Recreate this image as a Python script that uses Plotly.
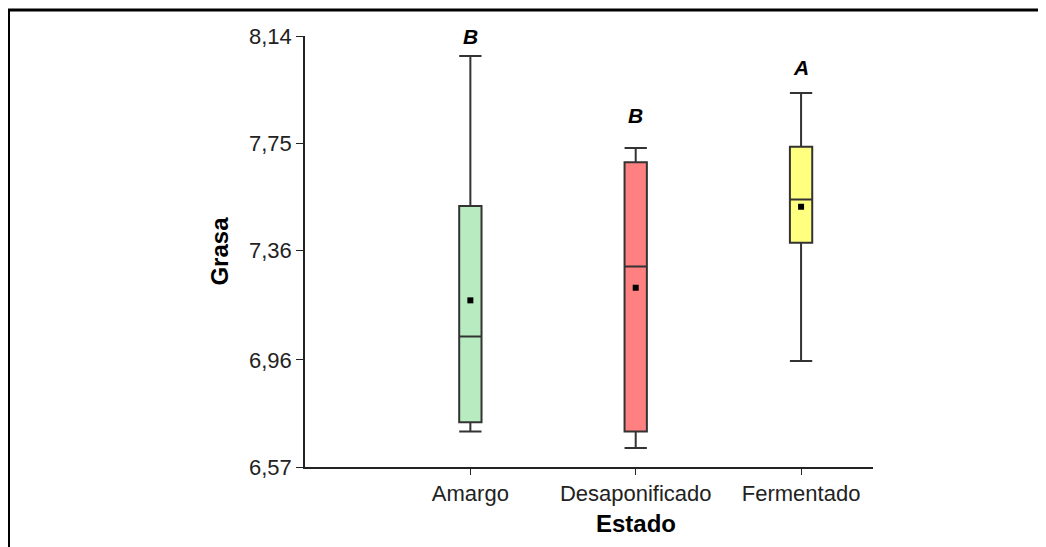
import plotly.graph_objects as go

categories = ["Amargo", "Desaponificado", "Fermentado"]
q1 = [6.733, 6.699, 7.387]
median = [7.045, 7.300, 7.544]
q3 = [7.521, 7.680, 7.737]
lower = [6.699, 6.639, 6.956]
upper = [8.067, 7.732, 7.932]
means = [7.177, 7.223, 7.518]
letters = ["B", "B", "A"]
letter_y = [8.14, 7.849, 8.027]
colors = ["#b8ecc0", "#ff8080", "#ffff80"]
yticks = [6.57, 6.96, 7.36, 7.75, 8.14]
ytick_text = ["6,57", "6,96", "7,36", "7,75", "8,14"]

FONT = "Liberation Sans, Arial, sans-serif"
fig = go.Figure()
for i, c in enumerate(categories):
    fig.add_trace(go.Box(
        x=[c], q1=[q1[i]], median=[median[i]], q3=[q3[i]],
        lowerfence=[lower[i]], upperfence=[upper[i]],
        fillcolor=colors[i], line=dict(color="#333333", width=2),
        width=0.135, whiskerwidth=1, boxpoints=False, showlegend=False,
        hoverinfo="skip",
    ))
fig.add_trace(go.Scatter(
    x=categories, y=means, mode="markers",
    marker=dict(symbol="square", size=6, color="black"),
    showlegend=False, hoverinfo="skip",
))
for c, t, y in zip(categories, letters, letter_y):
    fig.add_annotation(x=c, y=y, text=f"<b><i>{t}</i></b>", showarrow=False,
                       font=dict(family=FONT, size=21, color="black"))

# x-axis title centred under the middle category, as in the reference
fig.add_annotation(x=categories[1], xref="x", y=-0.13, yref="paper",
                   text="<b>Estado</b>", showarrow=False, yanchor="middle",
                   font=dict(family=FONT, size=24, color="black"))

# cropped frame (left and top edges)
fig.add_shape(type="path", xref="paper", yref="paper",
              path="M -0.522 -0.4 L -0.522 1.0603 L 1.5 1.0603",
              line=dict(color="black", width=3))

fig.update_layout(
    width=1046, height=547,
    margin=dict(l=297, r=181, t=28, b=88),
    paper_bgcolor="white", plot_bgcolor="white",
    font=dict(family=FONT, color="#222222"),
    xaxis=dict(
        type="category", categoryorder="array", categoryarray=categories,
        range=[-1.0, 2.435], showline=True, linecolor="#222222", linewidth=1.5,
        ticks="outside", ticklen=6, tickcolor="#222222", showgrid=False,
        zeroline=False, tickfont=dict(family=FONT, size=22, color="#222222"),
    ),
    yaxis=dict(
        range=[6.57, 8.14], tickvals=yticks, ticktext=ytick_text,
        showline=True, linecolor="#222222", linewidth=1.5,
        ticks="outside", ticklen=7, tickcolor="#222222", showgrid=False,
        zeroline=False, tickfont=dict(family=FONT, size=22, color="#222222"),
        title=dict(text="<b>Grasa</b>", font=dict(family=FONT, size=24, color="black"), standoff=14),
    ),
)
fig.write_html("out.html")
